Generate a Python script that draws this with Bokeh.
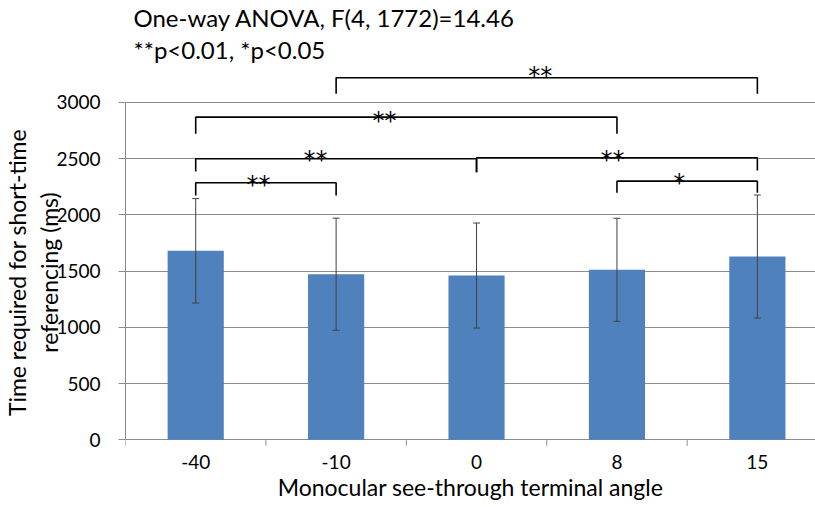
from bokeh.plotting import figure
from bokeh.models import Range1d, FixedTicker, Whisker, ColumnDataSource, TeeHead, Title
from bokeh.core.properties import value
from bokeh.embed import file_html
from bokeh.resources import INLINE

# ---- data ----
angles = ["-40", "-10", "0", "8", "15"]
mean_ms = [1680, 1472, 1460, 1511, 1629]
sd_ms = [464, 498, 467, 458, 547]
y_ticks = [0, 500, 1000, 1500, 2000, 2500, 3000]

# significance brackets (heights in ms units of the y axis)
br_left = ["-10", "-40", "-40", "0", "-40", "8"]
br_right = ["15", "8", "0", "15", "-10", "15"]
br_top = [3218, 2868, 2498, 2507, 2285, 2299]
br_leg_l = [3076, 2720, 2385, 2379, 2172, 2196]
br_leg_r = [3076, 2720, 2379, 2394, 2172, 2196]
br_mark = ["**", "**", "**", "**", "**", "*"]

title_1 = "One-way ANOVA, F(4, 1772)=14.46"
title_2 = "**p<0.01, *p<0.05"

FONT = "Lato"
GRID = "#8c8c8c"

idx = {a: i for i, a in enumerate(angles)}
xs = list(range(len(angles)))

PX_PER_MS = 0.1125           # vertical scale of the original chart
FRAME_H = 416
Y0 = -40.7 / PX_PER_MS       # room below the zero line for the category labels

p = figure(title=None, frame_width=690, frame_height=FRAME_H,
           x_range=Range1d(-0.5, 4.414), y_range=Range1d(Y0, Y0 + FRAME_H / PX_PER_MS),
           output_backend="svg", toolbar_location=None,
           min_border_left=125, min_border_right=0, min_border_top=64, min_border_bottom=27)
p.outline_line_color = None
p.background_fill_color = "white"

src = ColumnDataSource(dict(x=xs, top=mean_ms,
                            upper=[m + s for m, s in zip(mean_ms, sd_ms)],
                            lower=[m - s for m, s in zip(mean_ms, sd_ms)]))
p.vbar(x="x", top="top", width=0.4, source=src, fill_color="#4F81BD", line_color=None)

wh = Whisker(base="x", upper="upper", lower="lower", source=src,
             line_color="#404040", line_width=1, level="annotation",
             upper_head=TeeHead(size=7, line_color="#404040", line_width=1),
             lower_head=TeeHead(size=7, line_color="#404040", line_width=1))
p.add_layout(wh)

# category boundary ticks under the zero line
bounds_x = [i - 0.5 for i in xs] + [len(xs) - 0.5]
p.segment(x0=bounds_x, y0=[0] * len(bounds_x), x1=bounds_x, y1=[-6 / PX_PER_MS] * len(bounds_x),
          line_color=GRID, line_width=1)

# brackets
bx, by = [], []
for l, r, t, ll, lr in zip(br_left, br_right, br_top, br_leg_l, br_leg_r):
    xl, xr = idx[l], idx[r]
    bx.append([xl, xl, xr, xr])
    by.append([ll, t, t, lr])
p.multi_line(xs=bx, ys=by, line_color="black", line_width=1.6)

# significance marks (baseline positions; slightly left of bracket centre as in the original)
mark_shift = [-0.046, -0.155, -0.146, -0.031, -0.052, -0.057]
mark_base = [3230, 2834, 2488, 2485, 2266, 2284]
mx = [(idx[l] + idx[r]) / 2 + s for l, r, s in zip(br_left, br_right, mark_shift)]
p.text(x=mx, y=mark_base, text=br_mark, text_font=value("DejaVu Sans"), text_font_size="24px",
       text_align="center", text_baseline="alphabetic", text_color="black")

# axes
p.xgrid.visible = False
p.ygrid.ticker = FixedTicker(ticks=y_ticks)
p.ygrid.grid_line_color = GRID

p.yaxis.ticker = FixedTicker(ticks=y_ticks)
p.yaxis.bounds = (0, 3000)
p.yaxis.axis_line_color = GRID
p.yaxis.major_tick_line_color = GRID
p.yaxis.major_tick_out = 7
p.yaxis.major_tick_in = 0
p.yaxis.minor_tick_line_color = None
p.yaxis.major_label_standoff = 18
p.yaxis.major_label_text_font = FONT
p.yaxis.major_label_text_font_size = "19px"
p.yaxis.major_label_text_color = "black"
p.yaxis.axis_label = "Time required for short-time\nreferencing (ms)"
p.yaxis.axis_label_text_font = FONT
p.yaxis.axis_label_text_font_size = "23px"
p.yaxis.axis_label_text_line_height = 1.15
p.yaxis.axis_label_text_font_style = "normal"
p.yaxis.axis_label_text_color = "black"
p.yaxis.axis_label_standoff = -10

p.xaxis.ticker = FixedTicker(ticks=xs)
p.xaxis.major_label_overrides = {i: a for i, a in enumerate(angles)}
p.xaxis.axis_line_color = None
p.xaxis.major_tick_line_color = None
p.xaxis.minor_tick_line_color = None
p.xaxis.major_tick_out = 0
p.xaxis.major_tick_in = 0
p.xaxis.minor_tick_out = 0
p.xaxis.minor_tick_in = 0
p.xaxis.major_label_standoff = -26
p.xaxis.major_label_text_font = FONT
p.xaxis.major_label_text_font_size = "19px"
p.xaxis.major_label_text_color = "black"
p.xaxis.axis_label = "Monocular see-through terminal angle"
p.xaxis.axis_label_text_font = FONT
p.xaxis.axis_label_text_font_size = "23px"
p.xaxis.axis_label_text_font_style = "normal"
p.xaxis.axis_label_text_color = "black"
p.xaxis.axis_label_standoff = 1

# two-line heading (closest line added first)
for txt in (title_2, title_1):
    p.add_layout(Title(text=txt, align="left", offset=8, standoff=1,
                       text_font=FONT, text_font_size="24px", text_font_style="normal",
                       text_color="black"), "above")

open("out.html", "w").write(file_html(p, INLINE))
